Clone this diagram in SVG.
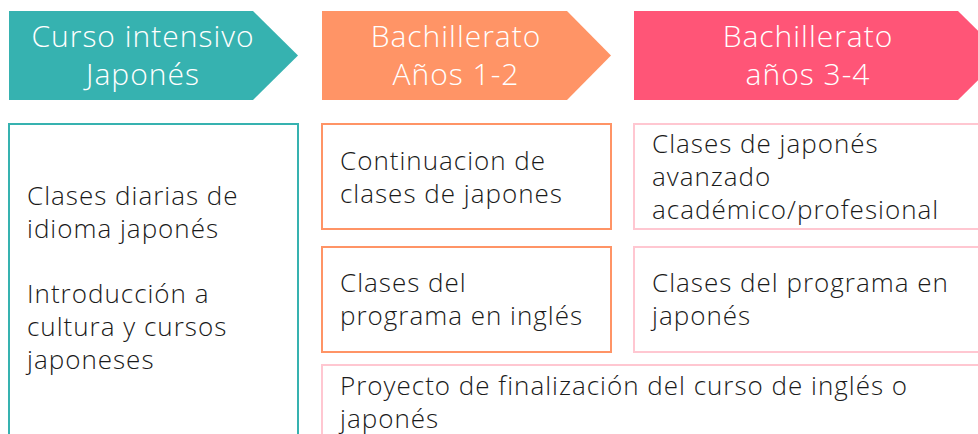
<svg xmlns="http://www.w3.org/2000/svg" width="978" height="434" viewBox="0 0 978 434">
<style>
.hd{font-family:"Open Sans",Lato,"Liberation Sans",sans-serif;font-weight:300;font-size:30px;letter-spacing:1px;fill:#fff;text-anchor:middle}
.bt{font-family:"Open Sans",Lato,"Liberation Sans",sans-serif;font-weight:300;font-size:26px;letter-spacing:1px;fill:#1a1a1a}
.tb{fill:#fff;stroke:#36B2B0;stroke-width:2}
.ob{fill:#fff;stroke:#FF9466;stroke-width:2}
.pb{fill:#fff;stroke:#FFC7D1;stroke-width:2}
</style>
<rect width="978" height="434" fill="#fff"/>
<g id="head-curso">
<polygon points="9,11 253,11 298,55.5 253,100 9,100" fill="#36B2B0"/>
<text class="hd" x="143" y="47">Curso intensivo</text>
<text class="hd" x="143" y="85">Japonés</text>
</g>
<g id="head-bach12">
<polygon points="322,11 567,11 611,55.5 567,100 322,100" fill="#FF9466"/>
<text class="hd" x="456" y="47">Bachillerato</text>
<text class="hd" x="456" y="85">Años 1-2</text>
</g>
<g id="head-bach34">
<polygon points="634,11 958,11 1003,55.5 958,100 634,100" fill="#FF5577"/>
<text class="hd" x="808" y="47">Bachillerato</text>
<text class="hd" x="808" y="85">años 3-4</text>
</g>
<g id="box-curso">
<rect class="tb" x="9" y="124" width="289" height="330"/>
<text class="bt" x="27" y="205">Clases diarias de</text>
<text class="bt" x="27" y="238">idioma japonés</text>
<text class="bt" x="27" y="303">Introducción a</text>
<text class="bt" x="27" y="336">cultura y cursos</text>
<text class="bt" x="27" y="369">japoneses</text>
</g>
<g id="box-continuacion">
<rect class="ob" x="322" y="124" width="289" height="105"/>
<text class="bt" x="340" y="170">Continuacion de</text>
<text class="bt" x="340" y="203">clases de japones</text>
</g>
<g id="box-ingles">
<rect class="ob" x="322" y="247" width="289" height="105"/>
<text class="bt" x="340" y="292">Clases del</text>
<text class="bt" x="340" y="325">programa en inglés</text>
</g>
<g id="box-avanzado">
<rect class="pb" x="634" y="124" width="360" height="105"/>
<text class="bt" x="652" y="153">Clases de japonés</text>
<text class="bt" x="652" y="186">avanzado</text>
<text class="bt" x="652" y="219">académico/profesional</text>
</g>
<g id="box-japones">
<rect class="pb" x="634" y="247" width="360" height="105"/>
<text class="bt" x="652" y="292">Clases del programa en</text>
<text class="bt" x="652" y="325">japonés</text>
</g>
<g id="box-proyecto">
<rect class="pb" x="322" y="365" width="672" height="100"/>
<text class="bt" x="340" y="395">Proyecto de finalización del curso de inglés o</text>
<text class="bt" x="340" y="428">japonés</text>
</g>
<g id="connectors"></g>
</svg>
